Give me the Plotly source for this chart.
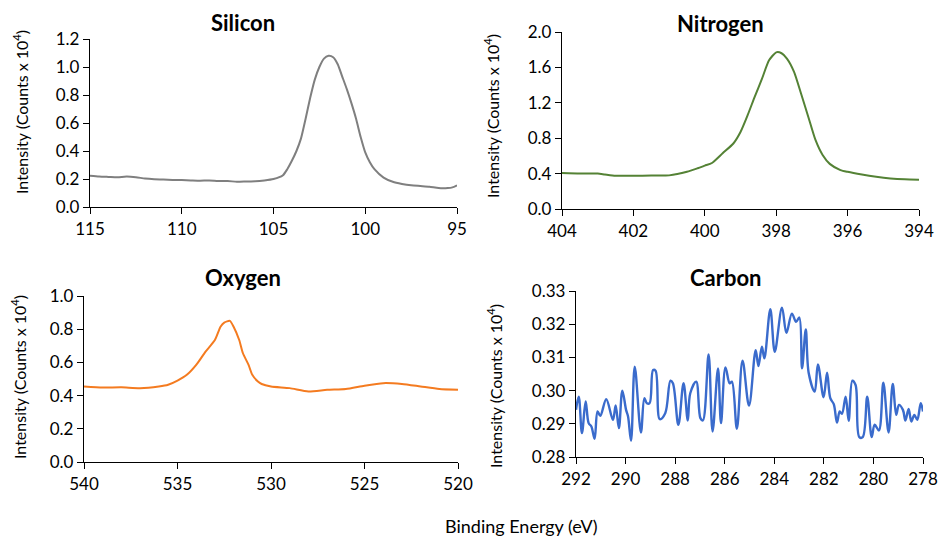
import plotly.graph_objects as go

# ---------------- data ----------------
si_energy = [115, 114.5, 114, 113.5, 113, 112.5, 112, 111.5, 111, 110.5, 110, 109.5, 109, 108.5, 108,
             107.5, 107, 106.5, 106, 105.5, 105, 104.5, 104.25, 104, 103.75, 103.5, 103.25, 103, 102.75,
             102.5, 102.25, 102, 101.75, 101.5, 101.25, 101, 100.75, 100.5, 100.25, 100, 99.75, 99.5,
             99, 98.5, 98, 97.5, 97, 96.5, 96, 95.5, 95.25, 95]
si_counts = [0.224, 0.218, 0.215, 0.212, 0.218, 0.213, 0.203, 0.198, 0.196, 0.193, 0.192, 0.190, 0.188,
             0.190, 0.185, 0.186, 0.180, 0.182, 0.184, 0.190, 0.200, 0.225, 0.27, 0.33, 0.40, 0.49, 0.63,
             0.78, 0.91, 1.00, 1.06, 1.08, 1.07, 1.02, 0.93, 0.84, 0.74, 0.63, 0.50, 0.39, 0.32, 0.27,
             0.21, 0.18, 0.165, 0.155, 0.15, 0.145, 0.135, 0.135, 0.14, 0.155]

n_energy = [404, 403.5, 403, 402.8, 402.5, 402, 401.5, 401, 400.5, 400.2, 400, 399.8, 399.5, 399.2, 399,
            398.8, 398.6, 398.4, 398.2, 398, 397.85, 397.7, 397.5, 397.3, 397.1, 396.9, 396.7, 396.5,
            396.2, 396, 395.6, 395.2, 394.8, 394.4, 394]
n_counts = [0.406, 0.40, 0.40, 0.39, 0.376, 0.376, 0.378, 0.38, 0.42, 0.46, 0.49, 0.52, 0.63, 0.74, 0.87,
            1.06, 1.27, 1.47, 1.68, 1.77, 1.76, 1.70, 1.55, 1.30, 1.04, 0.78, 0.61, 0.51, 0.44, 0.42,
            0.39, 0.365, 0.346, 0.335, 0.33]

o_energy = [540, 539, 538, 537, 536, 535.5, 535, 534.5, 534, 533.5, 533, 532.7, 532.5, 532.2, 532,
            531.7, 531.5, 531.2, 531, 530.7, 530.5, 530, 529, 528, 527, 526, 525, 524, 523, 522, 521, 520]
o_counts = [0.455, 0.449, 0.450, 0.445, 0.455, 0.465, 0.49, 0.525, 0.585, 0.665, 0.735, 0.815, 0.84,
            0.85, 0.815, 0.735, 0.655, 0.585, 0.525, 0.485, 0.47, 0.455, 0.445, 0.425, 0.435, 0.44,
            0.46, 0.475, 0.47, 0.455, 0.44, 0.435]

c_energy = [292.00, 291.89, 291.76, 291.61, 291.49, 291.38, 291.25, 291.13, 291.02, 290.78, 290.51,
            290.40, 290.27, 290.13, 289.98, 289.90, 289.78, 289.63, 289.38, 289.24, 289.14, 289.03,
            288.89, 288.79, 288.62, 288.40, 288.19, 288.09, 287.87, 287.66, 287.49, 287.39, 287.15,
            286.98, 286.88, 286.65, 286.49, 286.27, 286.15, 285.97, 285.80, 285.71, 285.51, 285.28,
            285.02, 284.75, 284.64, 284.50, 284.40, 284.16, 283.98, 283.69, 283.51, 283.29, 283.12,
            282.99, 282.88, 282.73, 282.61, 282.37, 282.24, 282.01, 281.87, 281.74, 281.60, 281.47,
            281.36, 281.27, 281.12, 281.00, 280.85, 280.72, 280.57, 280.43, 280.25, 280.07, 279.95,
            279.78, 279.60, 279.39, 279.22, 279.08, 278.97, 278.81, 278.71, 278.58, 278.47, 278.35,
            278.23, 278.09, 278.00]
c_counts = [0.2942, 0.2982, 0.2872, 0.2967, 0.2902, 0.2892, 0.2855, 0.2937, 0.2924, 0.2974, 0.2912,
            0.2955, 0.2887, 0.3000, 0.2942, 0.2922, 0.2849, 0.3072, 0.2874, 0.2977, 0.2962, 0.2962,
            0.3062, 0.3060, 0.2914, 0.2932, 0.3030, 0.3022, 0.2897, 0.3022, 0.2910, 0.2992, 0.3027,
            0.2917, 0.2910, 0.3109, 0.2877, 0.3067, 0.2902, 0.3070, 0.3022, 0.3027, 0.2885, 0.3090,
            0.2955, 0.3122, 0.3074, 0.3132, 0.3097, 0.3245, 0.3117, 0.3250, 0.3174, 0.3232, 0.3207,
            0.3220, 0.3067, 0.3184, 0.3052, 0.2997, 0.3079, 0.2980, 0.3054, 0.2977, 0.2959, 0.2904,
            0.2937, 0.2930, 0.2982, 0.2909, 0.3030, 0.3017, 0.2860, 0.2860, 0.2982, 0.2860, 0.2897,
            0.2880, 0.3024, 0.2874, 0.3020, 0.2927, 0.2957, 0.2942, 0.2910, 0.2945, 0.2907, 0.2927,
            0.2912, 0.2962, 0.2937]

titles = ["Silicon", "Nitrogen", "Oxygen", "Carbon"]
y_title = "Intensity (Counts x 10<sup>4</sup>)"
x_title = "Binding Energy (eV)"

# ---------------- figure ----------------
W, H = 941, 540
FONT = "Lato, 'Open Sans', sans-serif"

def fx(px):
    return px / W

def fy(py):
    return 1 - py / H

fig = go.Figure()
series = [
    (si_energy, si_counts, "#7f7f7f", "x", "y", 0.6, 2),
    (n_energy, n_counts, "#548235", "x2", "y2", 0.6, 2),
    (o_energy, o_counts, "#f47b20", "x3", "y3", 0.6, 2),
    (c_energy, c_counts, "#3a6bcc", "x4", "y4", 1.0, 2.4),
]
for xs, ys, col, xa, ya, sm, lw in series:
    fig.add_trace(go.Scatter(x=xs, y=ys, mode="lines",
                             line=dict(color=col, width=lw, shape="spline", smoothing=sm),
                             xaxis=xa, yaxis=ya, showlegend=False, hoverinfo="skip"))

# plot areas in pixels: (left, right, top, bottom)
boxes = [(90, 457, 39, 207), (562, 919, 32, 209), (84, 458, 296, 462), (576, 923, 291, 457)]
xranges = [[115, 95], [404, 394], [540, 520], [292, 278]]
xdticks = [5, 2, 5, 2]
yranges = [[0, 1.2], [0, 2.0], [0, 1.0], [0.28, 0.33]]
ydticks = [0.2, 0.4, 0.2, 0.01]
yfmts = [".1f", ".1f", ".1f", ".2f"]

axis_common = dict(showline=True, linecolor="black", linewidth=1.3, ticks="outside", tickcolor="black",
                   ticklen=6, tickwidth=1.3, showgrid=False, zeroline=False, automargin=False,
                   tickfont=dict(family=FONT, size=17, color="black"))
for i in range(4):
    l, r, t, b = boxes[i]
    sfx = "" if i == 0 else str(i + 1)
    fig.layout["xaxis" + sfx] = dict(axis_common, domain=[fx(l), fx(r)], range=xranges[i], dtick=xdticks[i],
                                     tick0=0, anchor="y" + sfx)
    fig.layout["yaxis" + sfx] = dict(axis_common, domain=[fy(b), fy(t)], range=yranges[i], dtick=ydticks[i],
                                     tick0=0, tickformat=yfmts[i], anchor="x" + sfx)

# titles
title_pos = [(243, 22), (720, 23), (243, 277), (725, 277)]
for txt, (px, py) in zip(titles, title_pos):
    fig.add_annotation(text="<b>" + txt + "</b>", x=fx(px), y=fy(py), xref="paper", yref="paper",
                       showarrow=False, font=dict(family=FONT, size=22, color="black"),
                       xanchor="center", yanchor="middle")

ytitle_pos = [(21, 112), (492, 116), (18, 377), (494, 386)]
for px, py in ytitle_pos:
    fig.add_annotation(text=y_title, x=fx(px), y=fy(py), xref="paper", yref="paper", showarrow=False,
                       textangle=-90, font=dict(family=FONT, size=16, color="black"),
                       xanchor="center", yanchor="middle")

fig.add_annotation(text=x_title, x=fx(521), y=fy(526), xref="paper", yref="paper", showarrow=False,
                   font=dict(family=FONT, size=18, color="black"), xanchor="center", yanchor="middle")

fig.update_layout(width=W, height=H, margin=dict(l=0, r=0, t=0, b=0, autoexpand=False),
                  paper_bgcolor="white", plot_bgcolor="white")
fig.write_html("out.html", config={"displayModeBar": False},
               post_script="document.body.style.margin='0';document.body.style.padding='0';"
                           "document.body.style.overflow='hidden';")
